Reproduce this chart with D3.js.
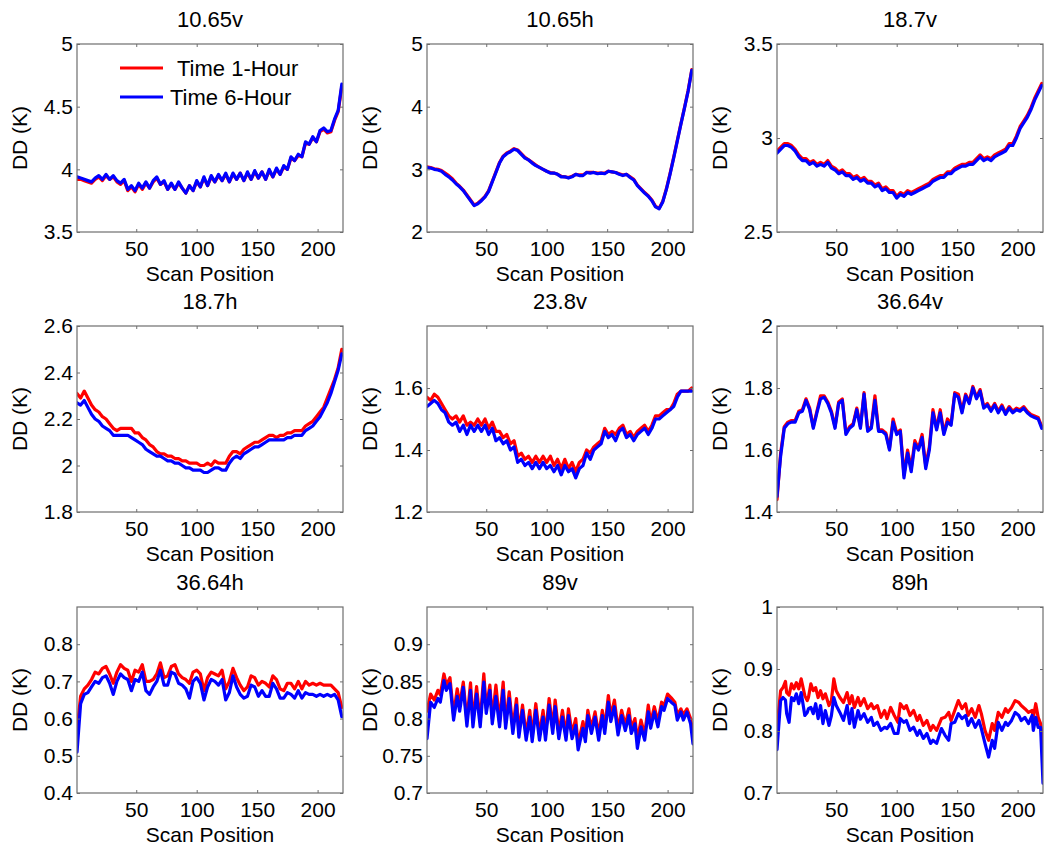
<!DOCTYPE html>
<html><head><meta charset="utf-8">
<script src="https://cdn.jsdelivr.net/npm/d3@7"></script>
<style>body{margin:0;background:#fff} svg text{font-family:"Liberation Sans",Arial,sans-serif;fill:#000}</style>
</head><body><svg id="c" width="1044" height="848"></svg>
<script>
// ---------------- DATA ----------------
const seriesNames = ["Time 1-Hour", "Time 6-Hour"];
const titles = ["10.65v","10.65h","18.7v","18.7h","23.8v","36.64v","36.64h","89v","89h"];
const yDomains = [[3.5,5],[2,5],[2.5,3.5],[1.8,2.6],[1.2,1.8],[1.4,2],[0.4,0.9],[0.7,0.95],[0.7,1]];
const yTickVals = [[3.5,4,4.5,5],[2,3,4,5],[2.5,3,3.5],[1.8,2,2.2,2.4,2.6],[1.2,1.4,1.6],[1.4,1.6,1.8,2],[0.4,0.5,0.6,0.7,0.8],[0.7,0.75,0.8,0.85,0.9],[0.7,0.8,0.9,1]];
const xTickVals = [50,100,150,200];
const xDomain = [1,221];

// scan positions (every third scan position) used by panels 1-7
const scanPos = [1,4,7,10,13,16,19,22,25,28,31,34,37,40,43,46,49,52,55,58,61,64,67,70,73,76,79,82,85,88,91,94,97,100,103,106,109,112,115,118,121,124,127,130,133,136,139,142,145,148,151,154,157,160,163,166,169,172,175,178,181,184,187,190,193,196,199,202,205,208,211,214,217,220];
const scanPos89v = [1,4,7,10,12,15,17,20,23,26,28,31,34,37,39,42,45,48,50,53,55,58,61,64,66,69,72,75,77,80,83,86,88,91,94,97,99,102,105,107,110,113,116,118,121,124,126,130,132,134,137,140,143,146,148,151,153,156,159,162,165,168,170,173,175,178,181,184,186,189,192,195,197,200,203,206,208,211,213,216,219,221];
const scanPos89h = [1,4,6,8,9,11,13,15,17,19,21,24,26,27,29,31,33,35,37,39,41,44,46,48,50,53,56,59,61,63,65,68,70,73,76,79,81,84,87,90,92,95,98,101,103,106,108,111,114,117,119,122,125,128,130,133,137,140,143,145,148,151,154,157,159,162,165,168,170,173,176,179,181,184,187,190,192,195,198,201,203,206,209,212,213,215,217,219,221];

const red1065v = [3.92,3.92,3.91,3.90,3.89,3.92,3.94,3.91,3.95,3.92,3.94,3.90,3.88,3.91,3.83,3.86,3.82,3.88,3.84,3.89,3.85,3.90,3.93,3.88,3.90,3.84,3.88,3.84,3.89,3.85,3.81,3.87,3.83,3.90,3.86,3.93,3.87,3.94,3.90,3.95,3.91,3.96,3.90,3.96,3.92,3.97,3.91,3.97,3.92,3.98,3.93,3.98,3.92,3.99,3.94,4.00,3.96,4.02,4.00,4.09,4.07,4.11,4.10,4.21,4.20,4.25,4.22,4.30,4.32,4.29,4.30,4.39,4.46,4.66];
const blue1065v = [3.94,3.93,3.92,3.91,3.90,3.93,3.95,3.92,3.96,3.92,3.95,3.91,3.89,3.92,3.84,3.87,3.83,3.89,3.85,3.90,3.85,3.91,3.94,3.88,3.91,3.84,3.89,3.84,3.90,3.85,3.81,3.87,3.83,3.91,3.86,3.94,3.87,3.95,3.90,3.96,3.91,3.97,3.90,3.97,3.92,3.97,3.91,3.98,3.92,3.99,3.93,3.98,3.92,4.00,3.94,4.01,3.96,4.03,4.00,4.10,4.07,4.12,4.10,4.22,4.20,4.26,4.22,4.31,4.33,4.30,4.31,4.40,4.47,4.68];

const red1065h = [3.04,3.03,3.01,3.00,2.98,2.94,2.90,2.85,2.78,2.73,2.67,2.59,2.51,2.43,2.46,2.51,2.57,2.66,2.81,2.96,3.11,3.21,3.26,3.29,3.33,3.31,3.25,3.19,3.15,3.11,3.07,3.03,3.00,2.97,2.95,2.94,2.92,2.89,2.88,2.87,2.89,2.92,2.91,2.91,2.95,2.95,2.95,2.94,2.94,2.94,2.97,2.96,2.95,2.93,2.91,2.92,2.88,2.84,2.75,2.69,2.63,2.58,2.51,2.41,2.38,2.49,2.69,2.93,3.19,3.46,3.73,3.99,4.26,4.59];
const blue1065h = [3.03,3.02,3.00,2.99,2.97,2.92,2.88,2.83,2.77,2.72,2.66,2.58,2.50,2.42,2.45,2.50,2.56,2.65,2.80,2.95,3.10,3.20,3.25,3.28,3.32,3.30,3.24,3.18,3.15,3.10,3.06,3.03,3.00,2.97,2.94,2.94,2.92,2.88,2.88,2.86,2.88,2.92,2.90,2.90,2.95,2.94,2.95,2.93,2.94,2.93,2.97,2.96,2.95,2.92,2.90,2.92,2.87,2.83,2.74,2.68,2.62,2.57,2.50,2.40,2.37,2.48,2.68,2.92,3.18,3.45,3.72,3.98,4.25,4.58];

const red187v = [2.93,2.95,2.97,2.97,2.96,2.94,2.91,2.89,2.89,2.87,2.88,2.86,2.87,2.86,2.88,2.85,2.84,2.82,2.83,2.81,2.81,2.79,2.80,2.78,2.79,2.77,2.77,2.75,2.76,2.73,2.74,2.72,2.72,2.69,2.71,2.70,2.72,2.71,2.72,2.73,2.74,2.75,2.76,2.78,2.79,2.80,2.80,2.82,2.82,2.84,2.85,2.86,2.86,2.87,2.87,2.89,2.91,2.89,2.90,2.89,2.91,2.92,2.93,2.94,2.97,2.97,3.01,3.06,3.09,3.12,3.16,3.21,3.25,3.29];
const blue187v = [2.92,2.94,2.96,2.96,2.95,2.93,2.90,2.88,2.88,2.86,2.87,2.85,2.86,2.85,2.87,2.84,2.83,2.81,2.82,2.80,2.80,2.78,2.79,2.77,2.78,2.76,2.76,2.74,2.75,2.72,2.73,2.71,2.71,2.68,2.70,2.69,2.71,2.70,2.71,2.72,2.73,2.74,2.75,2.77,2.78,2.79,2.79,2.81,2.81,2.83,2.84,2.85,2.85,2.86,2.86,2.88,2.90,2.88,2.89,2.88,2.90,2.91,2.92,2.93,2.96,2.96,3.00,3.05,3.08,3.11,3.15,3.20,3.24,3.28];

const red187h = [2.31,2.29,2.32,2.29,2.26,2.24,2.23,2.21,2.20,2.18,2.16,2.15,2.16,2.16,2.16,2.16,2.14,2.14,2.12,2.11,2.09,2.08,2.06,2.05,2.05,2.04,2.04,2.03,2.03,2.02,2.02,2.01,2.01,2.01,2.00,2.00,2.01,2.00,2.02,2.01,2.01,2.01,2.04,2.06,2.06,2.05,2.07,2.08,2.09,2.10,2.10,2.11,2.12,2.13,2.13,2.12,2.13,2.13,2.14,2.14,2.15,2.15,2.15,2.17,2.18,2.19,2.21,2.23,2.25,2.29,2.33,2.37,2.42,2.50];
const blue187h = [2.27,2.26,2.28,2.25,2.22,2.20,2.19,2.17,2.16,2.15,2.13,2.13,2.13,2.13,2.13,2.12,2.11,2.10,2.09,2.07,2.06,2.05,2.04,2.04,2.03,2.02,2.02,2.01,2.01,2.00,1.99,1.99,1.98,1.98,1.98,1.97,1.97,1.98,1.99,1.99,1.98,1.98,2.01,2.03,2.04,2.03,2.05,2.06,2.07,2.08,2.08,2.09,2.10,2.11,2.11,2.11,2.11,2.11,2.12,2.12,2.13,2.13,2.13,2.15,2.16,2.17,2.19,2.21,2.24,2.27,2.31,2.36,2.41,2.48];

const red238v = [1.57,1.56,1.58,1.57,1.55,1.53,1.51,1.50,1.51,1.49,1.51,1.48,1.49,1.48,1.50,1.48,1.50,1.47,1.49,1.46,1.46,1.44,1.45,1.42,1.43,1.38,1.39,1.37,1.38,1.36,1.38,1.36,1.38,1.36,1.38,1.35,1.37,1.34,1.37,1.34,1.36,1.33,1.36,1.37,1.40,1.39,1.41,1.42,1.43,1.47,1.45,1.46,1.45,1.47,1.48,1.45,1.46,1.44,1.46,1.47,1.48,1.46,1.48,1.51,1.51,1.52,1.53,1.53,1.55,1.58,1.59,1.59,1.59,1.60];
const blue238v = [1.54,1.55,1.56,1.55,1.53,1.52,1.49,1.48,1.49,1.46,1.48,1.45,1.48,1.46,1.48,1.46,1.48,1.45,1.47,1.43,1.44,1.42,1.43,1.40,1.41,1.36,1.37,1.35,1.36,1.34,1.36,1.34,1.36,1.34,1.35,1.33,1.35,1.32,1.35,1.33,1.34,1.31,1.34,1.35,1.39,1.37,1.40,1.41,1.42,1.46,1.44,1.45,1.43,1.46,1.47,1.44,1.45,1.43,1.45,1.46,1.47,1.45,1.47,1.50,1.50,1.51,1.52,1.53,1.54,1.57,1.59,1.59,1.59,1.59];

const red3664v = [1.44,1.59,1.675,1.69,1.695,1.695,1.725,1.73,1.765,1.735,1.675,1.725,1.775,1.775,1.755,1.725,1.675,1.755,1.765,1.655,1.675,1.685,1.735,1.675,1.785,1.665,1.675,1.775,1.665,1.665,1.655,1.605,1.70,1.655,1.665,1.52,1.60,1.54,1.63,1.605,1.65,1.55,1.61,1.73,1.67,1.73,1.655,1.70,1.685,1.785,1.78,1.725,1.78,1.755,1.805,1.77,1.795,1.74,1.75,1.73,1.75,1.725,1.745,1.72,1.74,1.725,1.735,1.73,1.74,1.725,1.715,1.71,1.705,1.675];
const blue3664v = [1.45,1.58,1.67,1.685,1.69,1.69,1.72,1.725,1.76,1.73,1.67,1.72,1.765,1.77,1.75,1.72,1.67,1.75,1.76,1.65,1.67,1.68,1.73,1.67,1.78,1.66,1.67,1.76,1.66,1.66,1.65,1.60,1.69,1.65,1.66,1.51,1.59,1.53,1.62,1.60,1.64,1.54,1.60,1.72,1.665,1.72,1.65,1.69,1.68,1.78,1.77,1.72,1.775,1.75,1.80,1.765,1.79,1.735,1.745,1.725,1.745,1.72,1.74,1.715,1.735,1.72,1.73,1.725,1.735,1.72,1.71,1.705,1.70,1.67];

const red3664h = [0.57,0.66,0.68,0.69,0.705,0.725,0.72,0.735,0.74,0.72,0.695,0.725,0.745,0.735,0.73,0.70,0.73,0.725,0.745,0.70,0.70,0.705,0.72,0.75,0.71,0.715,0.74,0.745,0.72,0.71,0.705,0.695,0.725,0.73,0.72,0.675,0.71,0.725,0.72,0.715,0.73,0.68,0.70,0.735,0.71,0.69,0.675,0.685,0.715,0.71,0.69,0.70,0.695,0.685,0.715,0.705,0.68,0.675,0.695,0.695,0.68,0.70,0.68,0.70,0.69,0.695,0.69,0.695,0.69,0.69,0.69,0.68,0.67,0.63];
const blue3664h = [0.51,0.64,0.665,0.67,0.685,0.70,0.695,0.71,0.715,0.695,0.665,0.70,0.72,0.71,0.705,0.675,0.705,0.70,0.725,0.675,0.665,0.685,0.70,0.73,0.69,0.69,0.725,0.72,0.695,0.69,0.68,0.655,0.70,0.71,0.695,0.65,0.685,0.705,0.70,0.69,0.705,0.65,0.67,0.715,0.685,0.665,0.655,0.66,0.69,0.685,0.66,0.675,0.66,0.66,0.695,0.68,0.655,0.655,0.67,0.665,0.655,0.675,0.655,0.67,0.665,0.665,0.66,0.665,0.66,0.665,0.66,0.665,0.65,0.605];

const red89v = [0.810,0.833,0.825,0.838,0.832,0.860,0.845,0.855,0.805,0.840,0.818,0.849,0.797,0.848,0.796,0.843,0.796,0.860,0.814,0.845,0.800,0.845,0.796,0.849,0.794,0.836,0.787,0.827,0.782,0.818,0.778,0.811,0.776,0.820,0.778,0.811,0.778,0.827,0.787,0.825,0.780,0.811,0.778,0.813,0.780,0.800,0.765,0.796,0.776,0.811,0.787,0.809,0.778,0.811,0.787,0.831,0.803,0.825,0.785,0.811,0.791,0.813,0.787,0.800,0.771,0.798,0.778,0.818,0.794,0.816,0.796,0.822,0.817,0.833,0.828,0.822,0.805,0.813,0.805,0.813,0.800,0.780];
const blue89v = [0.773,0.822,0.815,0.827,0.822,0.851,0.838,0.847,0.798,0.830,0.810,0.842,0.790,0.838,0.789,0.833,0.789,0.849,0.807,0.838,0.793,0.830,0.789,0.838,0.787,0.827,0.780,0.818,0.775,0.811,0.771,0.802,0.769,0.811,0.771,0.802,0.771,0.818,0.780,0.816,0.773,0.802,0.771,0.804,0.773,0.791,0.758,0.787,0.769,0.804,0.780,0.802,0.771,0.804,0.780,0.822,0.796,0.816,0.778,0.804,0.784,0.804,0.780,0.793,0.760,0.789,0.771,0.809,0.787,0.809,0.789,0.816,0.811,0.827,0.822,0.818,0.798,0.809,0.798,0.809,0.793,0.766];

const red89h = [0.806,0.865,0.870,0.880,0.862,0.858,0.876,0.868,0.878,0.868,0.884,0.857,0.849,0.854,0.876,0.865,0.870,0.854,0.865,0.852,0.860,0.841,0.849,0.884,0.865,0.854,0.846,0.862,0.844,0.857,0.838,0.854,0.841,0.852,0.836,0.844,0.836,0.841,0.822,0.833,0.820,0.838,0.825,0.814,0.844,0.836,0.841,0.825,0.833,0.817,0.825,0.809,0.817,0.801,0.809,0.801,0.820,0.822,0.830,0.817,0.833,0.849,0.836,0.844,0.825,0.836,0.822,0.841,0.828,0.801,0.785,0.812,0.801,0.830,0.822,0.836,0.830,0.838,0.849,0.846,0.841,0.836,0.830,0.833,0.822,0.844,0.822,0.812,0.780];
const blue89h = [0.770,0.849,0.854,0.850,0.828,0.814,0.854,0.849,0.860,0.844,0.862,0.825,0.830,0.836,0.838,0.828,0.844,0.820,0.841,0.812,0.833,0.809,0.825,0.854,0.841,0.830,0.817,0.841,0.812,0.836,0.806,0.833,0.819,0.828,0.814,0.822,0.809,0.814,0.801,0.806,0.804,0.812,0.796,0.796,0.820,0.814,0.817,0.801,0.806,0.793,0.801,0.788,0.796,0.780,0.785,0.780,0.804,0.793,0.785,0.812,0.814,0.828,0.820,0.825,0.809,0.820,0.806,0.817,0.804,0.780,0.758,0.785,0.772,0.814,0.801,0.814,0.809,0.817,0.830,0.825,0.817,0.822,0.812,0.825,0.801,0.822,0.806,0.806,0.716];

const xArrays = [scanPos,scanPos,scanPos,scanPos,scanPos,scanPos,scanPos,scanPos89v,scanPos89h];
const redSeries = [red1065v,red1065h,red187v,red187h,red238v,red3664v,red3664h,red89v,red89h];
const blueSeries = [blue1065v,blue1065h,blue187v,blue187h,blue238v,blue3664v,blue3664h,blue89v,blue89h];

// ---------------- LAYOUT / STYLE ----------------
const colLeft = [77, 427, 777];
const rowTop = [44, 326, 607];
const rowH = [188, 186, 186];
const plotW = 266;
const colors = ["#ff0000", "#0000ff"];
const axisColor = "#6e6e6e";
const titleSize = 22, labelSize = 21, tickSize = 21;
const FONT = '"Liberation Sans", Arial, sans-serif';

const svg = d3.select("#c");
const fmt = v => String(+v.toFixed(2));

titles.forEach((title, i) => {
  const col = i % 3, row = Math.floor(i / 3);
  const L = colLeft[col], T = rowTop[row], H = rowH[row], W = plotW;
  const x = d3.scaleLinear().domain(xDomain).range([L, L + W]);
  const y = d3.scaleLinear().domain(yDomains[i]).range([T + H, T]);
  const g = svg.append("g");

  const clipId = "clip" + i;
  g.append("clipPath").attr("id", clipId).append("rect")
    .attr("x", L).attr("y", T).attr("width", W).attr("height", H);

  const xs = xArrays[i];
  [redSeries[i], blueSeries[i]].forEach((vals, s) => {
    const n = Math.min(xs.length, vals.length);
    const pts = d3.range(n).map(k => [xs[k], vals[k]]);
    g.append("path")
      .attr("clip-path", `url(#${clipId})`)
      .attr("d", d3.line().x(d => x(d[0])).y(d => y(d[1]))(pts))
      .attr("fill", "none").attr("stroke", colors[s])
      .attr("stroke-width", 3.2).attr("stroke-linejoin", "round").attr("stroke-linecap", "round");
  });

  const styleAxis = sel => {
    sel.select(".domain").remove();
    sel.selectAll(".tick line").attr("stroke", axisColor);
    sel.selectAll(".tick text").attr("font-size", tickSize).attr("fill", "#000").style("font-family", FONT);
  };
  g.append("g").attr("transform", `translate(0,${T + H})`)
    .call(d3.axisBottom(x).tickValues(xTickVals).tickSize(-3).tickPadding(9).tickFormat(fmt))
    .call(styleAxis);
  g.append("g").attr("transform", `translate(0,${T})`)
    .call(d3.axisTop(x).tickValues(xTickVals).tickSize(-3).tickFormat(""))
    .call(styleAxis);
  g.append("g").attr("transform", `translate(${L},0)`)
    .call(d3.axisLeft(y).tickValues(yTickVals[i]).tickSize(-3).tickPadding(4).tickFormat(fmt))
    .call(styleAxis);
  g.append("g").attr("transform", `translate(${L + W},0)`)
    .call(d3.axisRight(y).tickValues(yTickVals[i]).tickSize(-3).tickFormat(""))
    .call(styleAxis);

  g.append("rect").attr("x", L).attr("y", T).attr("width", W).attr("height", H)
    .attr("fill", "none").attr("stroke", axisColor).attr("stroke-width", 1.2);

  g.append("text").attr("x", L + W / 2).attr("y", T - 17)
    .attr("text-anchor", "middle").attr("font-size", titleSize).text(title);
  g.append("text").attr("x", L + W / 2).attr("y", T + H + 49)
    .attr("text-anchor", "middle").attr("font-size", labelSize).text("Scan Position");
  g.append("text").attr("transform", `translate(${L - 50},${T + H / 2}) rotate(-90)`)
    .attr("text-anchor", "middle").attr("font-size", labelSize).text("DD (K)");
});

// legend (first panel)
const legX = [177, 170];
const legY = [68, 97];
seriesNames.forEach((name, s) => {
  svg.append("line").attr("x1", 120).attr("x2", 163).attr("y1", legY[s]).attr("y2", legY[s])
    .attr("stroke", colors[s]).attr("stroke-width", 3);
  svg.append("text").attr("x", legX[s]).attr("y", legY[s] + 8)
    .attr("font-size", titleSize).text(name);
});
</script>
</body></html>
